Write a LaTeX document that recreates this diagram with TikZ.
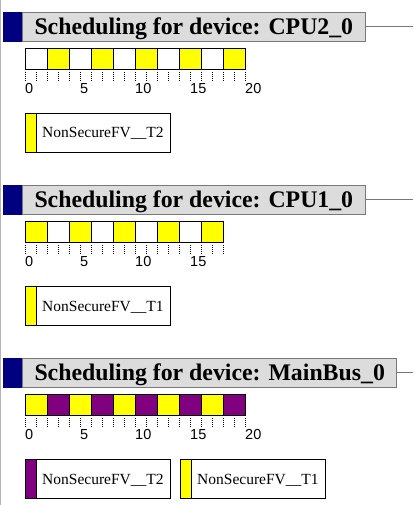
\documentclass[tikz,border=0pt]{standalone}
\usepackage{fontspec}
\setmainfont{Liberation Serif}
\setsansfont{Liberation Sans}
\definecolor{navy}{HTML}{000080}
\definecolor{bandgray}{HTML}{DCDCDC}
\definecolor{edgegray}{HTML}{787878}
\definecolor{framegray}{HTML}{B4B4B4}
\definecolor{purp}{HTML}{800080}
\definecolor{yel}{HTML}{FFFF00}
\tikzset{
  band/.style={draw=edgegray, fill=bandgray, line width=1pt, anchor=west,
    minimum height=29.5pt, inner xsep=12pt, inner ysep=0pt,
    text height=18pt, text depth=2pt,
    font=\fontsize{23.8}{24}\selectfont\bfseries},
  marker/.style={fill=navy, minimum width=19pt, minimum height=29.5pt,
    inner sep=0pt, anchor=north west},
  cell/.style={draw=black, line width=1pt, minimum width=22pt,
    minimum height=21pt, inner sep=0pt, anchor=north west},
  tickline/.style={line width=1pt, dash pattern=on 1pt off 1pt},
  ticklabel/.style={font=\sffamily\fontsize{14.5}{15}\selectfont,
    anchor=base west, inner sep=0pt, text=black},
  legbox/.style={draw=black, line width=1pt, minimum width=145pt,
    minimum height=39pt, inner sep=0pt, anchor=north west},
  legswatch/.style={draw=black, line width=1pt, minimum width=11pt,
    minimum height=39pt, inner sep=0pt, anchor=north west},
  legtext/.style={font=\fontsize{15.5}{16}\selectfont, anchor=base west,
    inner sep=0pt},
  rule/.style={draw=edgegray, line width=1pt},
  frame/.style={draw=framegray, line width=1pt},
}
\begin{document}
\begin{tikzpicture}[x=1pt, y=-1pt]
\useasboundingbox (0,0) rectangle (413,505);
\coordinate (ftop) at (0.5,0);
\coordinate (fbot) at (0.5,505);
\draw[frame] (ftop) -- (fbot);

% ---------- Section 1: CPU2_0 ----------
\node[marker] (m1) at (3,12) {};
\node[band] (b1) at (22,26.8) {Scheduling for device: CPU2\_0};
\coordinate (r1) at (413,26.8);
\draw[rule] (b1.east) -- (r1);
\foreach \i/\c in {0/white,1/yel,2/white,3/yel,4/white,5/yel,6/white,7/yel,8/white,9/yel}
  \node[cell, fill=\c] (c1-\i) at ({25+22*\i},48) {};
\foreach \k in {0,...,20}
  \draw[tickline] ({25.5+11*\k},72) -- ++(0,9);
\foreach \k in {0,5,10,15,20}
  \node[ticklabel] (l1-\k) at ({25+11*\k},93.5) {\k};
\node[legbox] (lg1) at (25,113) {};
\node[legswatch, fill=yel] (ls1) at (25,113) {};
\node[legtext] (lt1) at (42,138) {NonSecureFV\_\_T2};

% ---------- Section 2: CPU1_0 ----------
\begin{scope}[shift={(0,173)}]
\node[marker] (m2) at (3,12) {};
\node[band] (b2) at (22,26.8) {Scheduling for device: CPU1\_0};
\coordinate (r2) at (413,26.8);
\draw[rule] (b2.east) -- (r2);
\foreach \i/\c in {0/yel,1/white,2/yel,3/white,4/yel,5/white,6/yel,7/white,8/yel}
  \node[cell, fill=\c] (c2-\i) at ({25+22*\i},48) {};
\foreach \k in {0,...,18}
  \draw[tickline] ({25.5+11*\k},72) -- ++(0,9);
\foreach \k in {0,5,10,15}
  \node[ticklabel] (l2-\k) at ({25+11*\k},93.5) {\k};
\node[legbox] (lg2) at (25,113) {};
\node[legswatch, fill=yel] (ls2) at (25,113) {};
\node[legtext] (lt2) at (42,138) {NonSecureFV\_\_T1};
\end{scope}

% ---------- Section 3: MainBus_0 ----------
\begin{scope}[shift={(0,346)}]
\node[marker] (m3) at (3,12) {};
\node[band] (b3) at (22,26.8) {Scheduling for device: MainBus\_0};
\coordinate (r3) at (413,26.8);
\draw[rule] (b3.east) -- (r3);
\foreach \i/\c in {0/yel,1/purp,2/yel,3/purp,4/yel,5/purp,6/yel,7/purp,8/yel,9/purp}
  \node[cell, fill=\c] (c3-\i) at ({25+22*\i},48) {};
\foreach \k in {0,...,20}
  \draw[tickline] ({25.5+11*\k},72) -- ++(0,9);
\foreach \k in {0,5,10,15,20}
  \node[ticklabel] (l3-\k) at ({25+11*\k},93.5) {\k};
\node[legbox] (lg3a) at (25,113) {};
\node[legswatch, fill=purp] (ls3a) at (25,113) {};
\node[legtext] (lt3a) at (42,138) {NonSecureFV\_\_T2};
\node[legbox] (lg3b) at (180,113) {};
\node[legswatch, fill=yel] (ls3b) at (180,113) {};
\node[legtext] (lt3b) at (197,138) {NonSecureFV\_\_T1};
\end{scope}
\end{tikzpicture}
\end{document}
